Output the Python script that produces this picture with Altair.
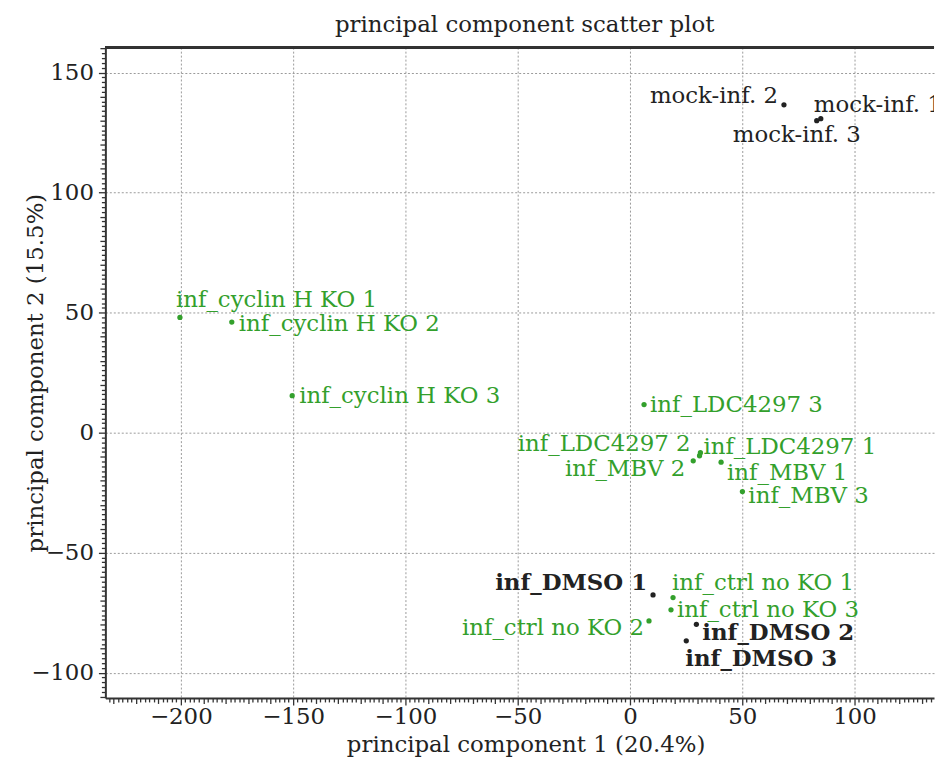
import altair as alt
import pandas as pd

# ---- data ----
samples = [
    "mock-inf. 1", "mock-inf. 2", "mock-inf. 3",
    "inf_cyclin H KO 1", "inf_cyclin H KO 2", "inf_cyclin H KO 3",
    "inf_LDC4297 1", "inf_LDC4297 2", "inf_LDC4297 3",
    "inf_MBV 1", "inf_MBV 2", "inf_MBV 3",
    "inf_DMSO 1", "inf_DMSO 2", "inf_DMSO 3",
    "inf_ctrl no KO 1", "inf_ctrl no KO 2", "inf_ctrl no KO 3",
]
pc1 = [85.0, 68.6, 83.2,
       -200.4, -177.3, -150.4,
       31.4, 31.0, 6.3,
       40.6, 28.2, 50.1,
       10.3, 29.6, 25.1,
       19.2, 8.5, 18.3]
pc2 = [130.8, 136.6, 130.0,
       48.0, 46.1, 15.4,
       -8.3, -9.6, 11.7,
       -12.3, -11.7, -24.5,
       -67.6, -79.8, -86.7,
       -68.7, -78.4, -73.8]
group = ["ref", "ref", "ref",
         "test", "test", "test",
         "test", "test", "test",
         "test", "test", "test",
         "ref", "ref", "ref",
         "test", "test", "test"]

# ---- label layout (pixel offsets from each point) ----
label_align = ["left", "right", "center",
               "left", "left", "left",
               "left", "right", "left",
               "left", "right", "left",
               "right", "left", "left",
               "left", "right", "left"]
label_dx = [-7, -6, -20,
            -4, 7, 7,
            3, -9, 6,
            6, -8, 6,
            -6, 6, -1,
            -1, -5, 6]
label_dy = [-14, -9, 15,
            -18, 2, 0,
            -6, -12, 0,
            11, 8, 5,
            -12, 9, 18,
            -15, 7, 0]

FONT = "DejaVu Serif"
FS = 23
W, H = 834, 655
XDOM = [-233.6, -233.6 + W / 2.26]
YDOM = [-110.5, 160.6]

df = pd.DataFrame({"sample": samples, "pc1": pc1, "pc2": pc2, "group": group})

color_scale = alt.Scale(domain=["ref", "test"], range=["#222222", "#33a02c"])

xticks = list(range(-232, int(XDOM[1]) + 1, 2))
yticks = list(range(-110, 161, 2))

tick_size = {
    "condition": [
        {"test": "datum.value % 50 === 0", "value": 7},
        {"test": "datum.value % 10 === 0", "value": 5.5},
    ],
    "value": 4,
}
grid_op = {"condition": {"test": "datum.value % 50 === 0", "value": 1}, "value": 0}
lab_expr = "datum.value % 50 === 0 ? datum.label : ''"

def make_axis(title, values, label_pad, title_pad, **kw):
    return alt.Axis(
        title=title, values=values, tickCount=1000, tickSize=tick_size, format="d",
        gridOpacity=grid_op, labelExpr=lab_expr, labelOverlap=False, labelFlush=False,
        grid=True, gridDash=[2, 2], gridColor="#9a9a9a", gridWidth=1,
        domainColor="#333", domainWidth=2, tickColor="#333", tickWidth=1.3,
        labelFont=FONT, labelFontSize=FS, labelColor="#222", labelPadding=label_pad,
        titleFont=FONT, titleFontSize=FS, titleFontWeight="normal", titleColor="#222",
        titlePadding=title_pad, **kw,
    )

x_axis = make_axis("principal component 1 (20.4%)", xticks, 1, 5, titleX=W / 2 + 6)
y_axis = make_axis("principal component 2 (15.5%)", yticks, 5, 4, titleX=-58)

base = alt.Chart(df)

points = base.mark_circle(size=28, opacity=1, clip=True).encode(
    x=alt.X("pc1:Q", scale=alt.Scale(domain=XDOM, nice=False, zero=False), axis=x_axis),
    y=alt.Y("pc2:Q", scale=alt.Scale(domain=YDOM, nice=False, zero=False), axis=y_axis),
    color=alt.Color("group:N", scale=color_scale, legend=None),
)

layers = [points]
for name, al, dx, dy, g in zip(samples, label_align, label_dx, label_dy, group):
    layers.append(
        base.transform_filter(alt.datum.sample == name)
        .mark_text(align=al, baseline="middle", dx=dx, dy=dy, font=FONT, fontSize=FS,
                   fontWeight="bold" if "DMSO" in name else "normal", clip=True)
        .encode(
            x="pc1:Q", y="pc2:Q", text="sample:N",
            color=alt.Color("group:N", scale=color_scale, legend=None),
        )
    )

top_border = alt.Chart(df).mark_rule(color="#333", strokeWidth=2).encode(
    x=alt.value(0), x2=alt.value(W), y=alt.value(0)
)
layers.append(top_border)

chart = alt.layer(*layers).properties(
    width=W, height=H,
    padding={"left": 17, "top": 3, "right": 0, "bottom": 0},
    title=alt.TitleParams("principal component scatter plot", font=FONT, fontSize=FS,
                          fontWeight="normal", color="#222", offset=1, dx=5),
).configure_view(stroke=None)

chart.save("out.html", embed_options={"renderer": "svg", "actions": False})
